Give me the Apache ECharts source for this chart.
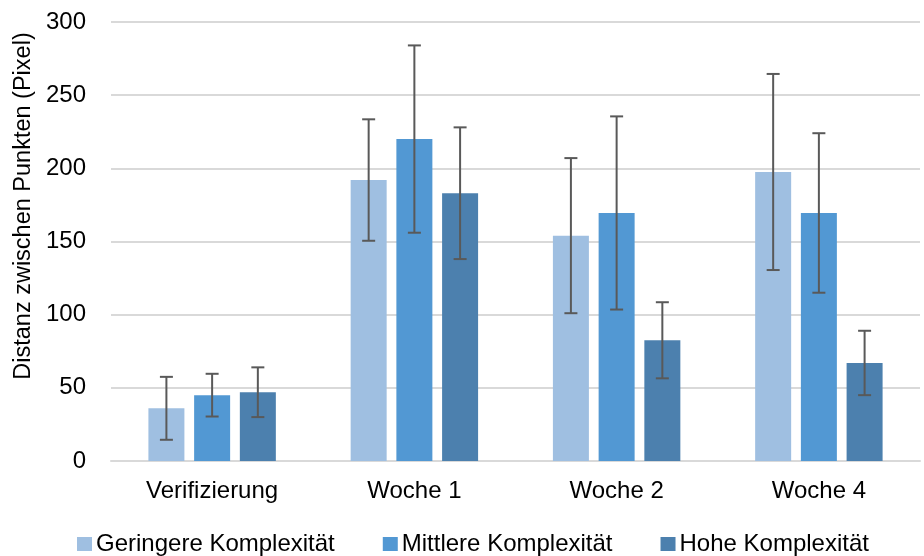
<!DOCTYPE html>
<html>
<head>
<meta charset="utf-8">
<script src="https://cdn.jsdelivr.net/npm/echarts@6/dist/echarts.min.js"></script>
<style>
  html, body { margin: 0; padding: 0; background: #fff; }
  #chart { width: 924px; height: 556px; }
</style>
</head>
<body>
<div id="chart"></div>
<script>
// Daten
const categories = ['Verifizierung', 'Woche 1', 'Woche 2', 'Woche 4'];
const seriesNames = ['Geringere Komplexität', 'Mittlere Komplexität', 'Hohe Komplexität'];
const geringMean = [36, 192, 154, 197.5];
const geringErr = [21.5, 41.5, 53, 67];
const mittelMean = [45, 220, 169.5, 169.5];
const mittelErr = [14.6, 64, 66, 54.5];
const hochMean = [47, 183, 82.5, 67];
const hochErr = [17, 45, 26, 22];
const yTicks = [0, 50, 100, 150, 200, 250, 300];

const colors = ['#9fbfe1', '#5298d3', '#4c80ae'];
const means = [geringMean, mittelMean, hochMean];
const errs = [geringErr, mittelErr, hochErr];

const barW = 36;
const barGapRatio = 0.27;
const font = 'Liberation Sans, Arial, sans-serif';

const chart = echarts.init(document.getElementById('chart'));

const barSeries = seriesNames.map((name, k) => ({
  name: name,
  type: 'bar',
  barWidth: barW,
  barGap: (barGapRatio * 100) + '%',
  itemStyle: { color: colors[k] },
  data: means[k],
  z: 2
}));

// Fehlerbalken als custom series
const errSeries = seriesNames.map((name, k) => ({
  type: 'custom',
  z: 5,
  silent: true,
  data: means[k].map((m, i) => [i, m - errs[k][i], m + errs[k][i]]),
  renderItem(params, api) {
    const off = (k - 1) * (barW * (1 + barGapRatio));
    const lo = api.coord([api.value(0), api.value(1)]);
    const hi = api.coord([api.value(0), api.value(2)]);
    const x = lo[0] + off;
    const cap = 6.5;
    const style = { stroke: '#595959', lineWidth: 2 };
    return {
      type: 'group',
      children: [
        { type: 'line', shape: { x1: x, y1: lo[1], x2: x, y2: hi[1] }, style },
        { type: 'line', shape: { x1: x - cap, y1: hi[1], x2: x + cap, y2: hi[1] }, style },
        { type: 'line', shape: { x1: x - cap, y1: lo[1], x2: x + cap, y2: lo[1] }, style }
      ]
    };
  }
}));

chart.setOption({
  animation: false,
  textStyle: { fontFamily: font },
  grid: { left: 111, right: 4, top: 22, bottom: 95 },
  legend: {
    data: seriesNames,
    left: 72,
    top: 527,
    icon: 'rect',
    itemWidth: 15,
    itemHeight: 14,
    itemGap: 48,
    textStyle: { fontSize: 24, color: '#000', padding: [0, 0, 0, -1] }
  },
  xAxis: {
    type: 'category',
    data: categories,
    axisTick: { show: false },
    axisLine: { lineStyle: { color: '#d9d9d9', width: 2 } },
    axisLabel: { fontSize: 24, color: '#000', margin: 18 }
  },
  yAxis: {
    type: 'value',
    min: yTicks[0],
    max: yTicks[yTicks.length - 1],
    interval: 50,
    axisLine: { show: false },
    axisTick: { show: false },
    splitLine: { lineStyle: { color: '#d9d9d9', width: 2 } },
    axisLabel: { fontSize: 24, color: '#000', margin: 25 }
  },
  graphic: [{
    type: 'text',
    x: 24,
    y: 206,
    rotation: Math.PI / 2,
    style: {
      text: 'Distanz zwischen Punkten (Pixel)',
      fontSize: 23.5,
      fill: '#000',
      fontFamily: font,
      align: 'center',
      verticalAlign: 'middle'
    }
  }],
  series: barSeries.concat(errSeries)
});
</script>
</body>
</html>
